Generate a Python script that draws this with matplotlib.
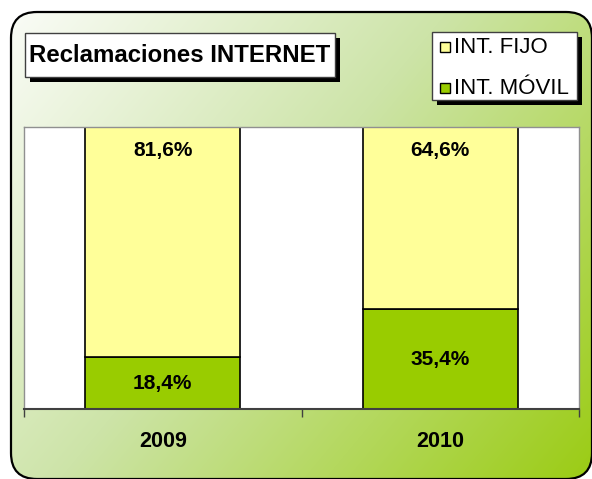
import numpy as np
import matplotlib
matplotlib.use("Agg")
import matplotlib.pyplot as plt
from matplotlib.patches import FancyBboxPatch, Rectangle

plt.rcParams['font.family'] = ['Liberation Sans', 'DejaVu Sans']

# data
years = ['2009', '2010']
series = ['INT. FIJO', 'INT. MÓVIL']
fijo = [81.6, 64.6]
movil = [18.4, 35.4]
colors = ['#FFFF99', '#99CC00']
title = 'Reclamaciones INTERNET'

W, H = 592, 479
fig = plt.figure(figsize=(W / 100, H / 100), dpi=100)

# background panel with diagonal gradient
bg = fig.add_axes([0, 0, 1, 1])
bg.set_xlim(0, W)
bg.set_ylim(H, 0)
bg.axis('off')

xx, yy = np.meshgrid(np.linspace(0, 1, 300), np.linspace(0, 1, 240))
t = (xx * 0.6 + yy * 0.4)
c0 = np.array([250, 252, 247]) / 255
c1 = np.array([205, 228, 168]) / 255
c2 = np.array([155, 204, 20]) / 255
t3 = t[..., None]
img = np.where(t3 < 0.45, c0 + (c1 - c0) * (t3 / 0.45), c1 + (c2 - c1) * ((t3 - 0.45) / 0.55))
img = np.clip(img, 0, 1)

frame = FancyBboxPatch((11, 12), 581, 467, boxstyle='round,pad=0,rounding_size=26',
                       facecolor='none', edgecolor='black', lw=1.6, zorder=3)
bg.add_patch(frame)
im = bg.imshow(img, extent=(11, 592, 479, 12), aspect='auto', zorder=1, interpolation='bilinear')
im.set_clip_path(frame)

# title box with shadow
bg.add_patch(Rectangle((30, 38), 310, 44, facecolor='black', edgecolor='none', zorder=4))
bg.add_patch(Rectangle((25, 33), 310, 44, facecolor='white', edgecolor='#404040', lw=1, zorder=5))
bg.text(180, 55.5, title, ha='center', va='center', fontsize=17.3, fontweight='bold', zorder=6)

# legend box with shadow
bg.add_patch(Rectangle((437, 37), 145, 68, facecolor='black', edgecolor='none', zorder=4))
bg.add_patch(Rectangle((432, 32), 145, 68, facecolor='white', edgecolor='#404040', lw=1, zorder=5))
for i, (name, col) in enumerate(zip(series, colors)):
    yc = 47 + i * 41
    bg.add_patch(Rectangle((440, yc - 5), 10, 10, facecolor=col, edgecolor='black', lw=1, zorder=6))
    bg.text(454, yc, name, ha='left', va='center', fontsize=16, zorder=6)

# main chart
ax = fig.add_axes([24 / W, (H - 409) / H, (579 - 24) / W, (409 - 127) / H])
ax.set_facecolor('white')
x = np.arange(len(years))
ax.bar(x, movil, 0.56, color=colors[1], edgecolor='black', lw=1.2, zorder=2)
ax.bar(x, fijo, 0.56, bottom=movil, color=colors[0], edgecolor='black', lw=1.2, zorder=2)
ax.set_xlim(-0.5, 1.5)
ax.set_ylim(0, 100)

for xi, f, m in zip(x, fijo, movil):
    ax.annotate(f'{f:.1f}%'.replace('.', ','), (xi, m + f), xytext=(0, -17),
                textcoords='offset points', ha='center', va='center',
                fontsize=15, fontweight='bold', zorder=3)
    ax.text(xi, m / 2, f'{m:.1f}%'.replace('.', ','), ha='center', va='center',
            fontsize=15, fontweight='bold', zorder=3)

ax.set_yticks([])
ax.set_xticks(x)
ax.set_xticklabels(years, fontsize=15.5, fontweight='bold')
ax.tick_params(axis='x', which='major', length=0, pad=16)
ax.set_xticks([-0.5, 0.5, 1.5], minor=True)
ax.tick_params(axis='x', which='minor', length=6, width=1, color='#404040', direction='out')
for s in ['top', 'left', 'right']:
    ax.spines[s].set_color('#909090')
    ax.spines[s].set_linewidth(1)
ax.spines['bottom'].set_color('#404040')
ax.spines['bottom'].set_linewidth(1.5)

fig.savefig('out.png', dpi=100)
